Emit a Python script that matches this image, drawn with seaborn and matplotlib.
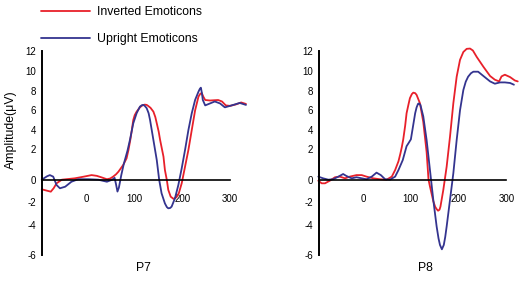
import numpy as np
import pandas as pd
import matplotlib
matplotlib.use("Agg")
import matplotlib.pyplot as plt
import seaborn as sns

# ---------------- data ----------------
CONDITIONS = ["Inverted Emoticons", "Upright Emoticons"]
PANELS = ["P7", "P8"]

P7_INV_MS = [-93, -74, -68, -62, -51, -24, -5, 11, 22, 32, 43, 50, 56, 62, 67, 77, 84, 88, 92, 95, 98,
             101, 105, 112, 117, 122, 126, 129, 134, 140, 144, 147, 151, 154, 161, 164, 168, 171, 176,
             182, 188, 193, 199, 206, 213, 220, 227, 234, 238, 241, 244, 248, 258, 275, 283, 291, 300,
             312, 323, 333]
P7_INV_UV = [-0.85, -1.06, -0.75, -0.32, 0.0, 0.09, 0.2, 0.3, 0.25, 0.15, 0.03, 0.08, 0.2, 0.35, 0.52,
             0.96, 1.39, 1.94, 3.0, 3.97, 5.0, 5.5, 5.86, 6.31, 6.5, 6.58, 6.55, 6.45, 6.25, 5.86,
             5.3, 4.66, 3.8, 2.93, 1.5, 0.63, -0.03, -0.9, -1.5, -1.7, -1.55, -1.2, -0.32, 0.85, 1.94,
             3.97, 6.0, 7.4, 7.7, 7.75, 7.4, 7.05, 7.0, 7.05, 6.9, 6.5, 6.45, 6.6, 6.8, 6.65]

P7_UP_MS = [-93, -82, -76, -69, -62, -55, -44, -31, -17, 4, 25, 43, 54, 59, 62, 65, 68, 73, 78, 86,
            91, 98, 105, 109, 112, 116, 119, 122, 126, 130, 133, 140, 147, 152, 157, 164, 168, 171,
            175, 178, 185, 192, 199, 206, 213, 220, 227, 234, 237, 239, 241, 243, 248, 258, 268, 279,
            289, 296, 310, 320, 333]
P7_UP_UV = [0.0, 0.22, 0.3, 0.2, -0.47, -0.76, -0.62, -0.18, 0.03, 0.03, 0.0, -0.18, 0.0, 0.12, -0.4,
            -1.05, -0.7, 0.3, 1.0, 1.9, 2.93, 4.66, 5.7, 6.1, 6.38, 6.52, 6.55, 6.45, 6.21, 5.7, 5.0,
            2.93, 1.28, 0.0, -1.2, -2.1, -2.42, -2.53, -2.5, -2.38, -1.64, -0.47, 0.74, 1.94, 3.97,
            5.7, 7.06, 7.9, 8.2, 8.3, 7.8, 7.06, 6.5, 6.7, 6.9, 6.7, 6.3, 6.4, 6.6, 6.75, 6.55]

P8_INV_MS = [-94, -87, -80, -70, -59, -49, -38, -28, -14, -3, 7, 21, 35, 49, 60, 67, 74, 78, 81, 84,
             88, 91, 95, 98, 102, 105, 109, 112, 119, 126, 133, 137, 140, 147, 151, 154, 157, 160,
             162, 168, 175, 182, 189, 196, 203, 210, 217, 224, 230, 238, 252, 266, 276, 285, 290,
             297, 308, 318, 324]
P8_INV_UV = [-0.09, -0.32, -0.32, -0.09, 0.16, 0.2, 0.09, 0.2, 0.3, 0.3, 0.2, 0.09, 0.03, 0.0, 0.2,
             0.63, 1.2, 1.7, 2.2, 3.0, 4.4, 5.7, 6.6, 7.24, 7.65, 7.8, 7.75, 7.57, 6.72, 4.8, 1.8, 0.0,
             -0.6, -1.9, -2.4, -2.6, -2.74, -2.65, -2.38, -0.9, 0.85, 3.27, 6.72, 9.4, 11.1, 11.9,
             12.22, 12.25, 12.05, 11.4, 10.4, 9.47, 9.1, 8.93, 9.43, 9.6, 9.36, 9.02, 8.93]

P8_UP_MS = [-94, -84, -73, -63, -52, -42, -35, -24, -14, -3, 7, 18, 28, 37, 46, 56, 67, 74, 83, 91,
            95, 100, 105, 109, 112, 115, 117, 120, 126, 133, 140, 147, 154, 158, 161, 165, 169, 172,
            175, 182, 189, 196, 203, 210, 215, 220, 226, 231, 241, 252, 266, 276, 287, 297, 308, 316]
P8_UP_UV = [0.2, 0.09, 0.0, 0.03, 0.2, 0.37, 0.24, 0.09, 0.16, 0.09, 0.03, 0.2, 0.46, 0.3, 0.03, 0.0,
            0.2, 0.63, 1.28, 2.29, 2.6, 3.0, 4.5, 5.7, 6.3, 6.66, 6.7, 6.55, 5.37, 2.93, 0.63, -1.79,
            -4.1, -4.9, -5.33, -5.62, -5.33, -4.8, -4.1, -1.79, 0.42, 2.93, 6.0, 8.07, 8.9, 9.4,
            9.75, 9.9, 9.9, 9.47, 8.93, 8.7, 8.83, 8.83, 8.77, 8.6]

Y_TICKS = [-6, -4, -2, 0, 2, 4, 6, 8, 10, 12]
X_TICKS = [0, 100, 200, 300]

# ---------------- style ----------------
sns.set_style("white")
plt.rcParams["font.family"] = ["Liberation Sans", "DejaVu Sans"]
for k in ["text.color", "axes.labelcolor", "xtick.color", "ytick.color", "axes.edgecolor"]:
    plt.rcParams[k] = "black"

PALETTE = {"Inverted Emoticons": "#e8202a", "Upright Emoticons": "#34348f"}

# the original amplitude axis is not evenly spaced: piecewise-linear axis scale
_KV = [-8, -6, -4, -2, 0, 2, 4, 6, 8, 10, 12, 14]
_KP = [285, 255, 225, 202.3, 179.7, 149, 129.7, 110.3, 90.7, 70.7, 51, 31.4]


def _fwd(v):
    return -np.interp(v, _KV, _KP)


def _inv(t):
    return np.interp(-np.asarray(t), _KP[::-1], _KV[::-1])


W, H = 521, 281
fig = plt.figure(figsize=(W / 100, H / 100), dpi=100)

frames = {
    "P7": pd.concat([
        pd.DataFrame({"ms": P7_INV_MS, "uv": P7_INV_UV, "cond": CONDITIONS[0]}),
        pd.DataFrame({"ms": P7_UP_MS, "uv": P7_UP_UV, "cond": CONDITIONS[1]}),
    ]),
    "P8": pd.concat([
        pd.DataFrame({"ms": P8_INV_MS, "uv": P8_INV_UV, "cond": CONDITIONS[0]}),
        pd.DataFrame({"ms": P8_UP_MS, "uv": P8_UP_UV, "cond": CONDITIONS[1]}),
    ]),
}

# axes boxes in pixels: (left, right) and x-limits
boxes = {"P7": (41.7, 249.3, (-93, 340), 143.3),
         "P8": (318.8, 520.6, (-93, 330), 425.7)}

handles, labels = None, None
for name in PANELS:
    l, r, xlim, tx = boxes[name]
    ax = fig.add_axes([l / W, (H - 255) / H, (r - l) / W, 204 / H])
    ax.set_yscale("function", functions=(_fwd, _inv))
    sns.lineplot(data=frames[name], x="ms", y="uv", hue="cond", hue_order=CONDITIONS,
                 palette=PALETTE, estimator=None, sort=False, linewidth=1.3, ax=ax)
    for ln in ax.lines:
        ln.set_clip_on(False)
        ln.set_solid_joinstyle("round")
    if handles is None:
        handles, labels = ax.get_legend_handles_labels()
    if ax.get_legend() is not None:
        ax.get_legend().remove()
    ax.set_xlim(*xlim)
    ax.set_ylim(-6, 12)
    ax.set_xlabel("")
    ax.set_ylabel("")
    ax.grid(False)
    for s in ["top", "right"]:
        ax.spines[s].set_visible(False)
    ax.spines["left"].set_bounds(-6, 12)
    ax.spines["left"].set_linewidth(1.4)
    ax.spines["bottom"].set_position(("data", 0))
    ax.spines["bottom"].set_bounds(-93, 300)
    ax.spines["bottom"].set_linewidth(1.2)
    ax.set_yticks(Y_TICKS)
    ax.set_yticklabels([str(v) for v in Y_TICKS])
    ax.yaxis.set_minor_locator(matplotlib.ticker.NullLocator())
    ax.set_xticks(X_TICKS)
    ax.tick_params(axis="y", direction="in", length=7, width=1.4, pad=4, labelsize=7)
    ax.tick_params(axis="x", direction="out", length=6, width=1.2, pad=4, labelsize=7)
    ax.patch.set_alpha(0)
    fig.text(tx / W, 1 - 268 / H, name, ha="center", va="center", fontsize=8.8)

fig.text(11 / W, 1 - 130 / H, "Amplitude(μV)", rotation=90, ha="center", va="center", fontsize=8.8)

fig.legend(handles, labels, loc="upper left", bbox_to_anchor=(41 / W, 1 - 6 / H),
           frameon=False, handlelength=4.0, handletextpad=0.57, labelspacing=1.25,
           borderpad=0, borderaxespad=0, fontsize=8.8)

fig.savefig("out.png", dpi=100)
